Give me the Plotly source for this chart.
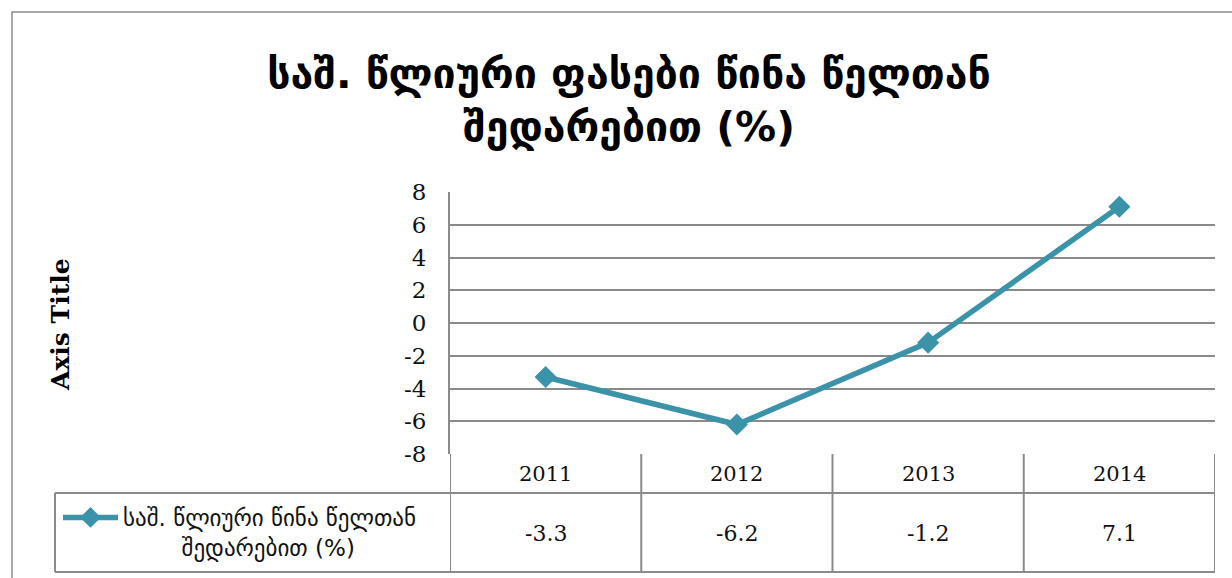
import plotly.graph_objects as go

# Annual average price change vs previous year, %
years = ["2011", "2012", "2013", "2014"]
values = [-3.3, -6.2, -1.2, 7.1]
value_labels = ["-3.3", "-6.2", "-1.2", "7.1"]
y_ticks = [-8, -6, -4, -2, 0, 2, 4, 6, 8]

title_text = "საშ. წლიური ფასები წინა წელთან<br>შედარებით (%)"
series_line1 = "საშ. წლიური წინა წელთან"
series_line2 = "შედარებით (%)"
axis_title = "Axis Title"

W, H = 1232, 578
LINE = "#3A93A8"
GRID = "#8A8A8A"
GEO_FONT = "DejaVu Sans"
NUM_FONT = "DejaVu Serif"


def px_x(p):
    return p / W


def px_y(p):
    return 1 - p / H


plot_left, plot_right = 450, 1215
plot_top, plot_bottom = 192, 454
row_mid, row_bottom = 493, 572
legend_left = 55

x_idx = list(range(len(years)))

# second legend line is padded so it sits centred under the first one
series_name = series_line1 + "<br>" + "\u00a0" * 8 + series_line2

fig = go.Figure()
fig.add_trace(go.Scatter(
    x=x_idx, y=values, mode="lines+markers", name=series_name,
    line=dict(color=LINE, width=5.5),
    marker=dict(symbol="diamond", size=17, color=LINE),
    hovertemplate="%{y}<extra></extra>",
))

shapes = []
# outer chart frame
shapes.append(dict(type="rect", xref="paper", yref="paper",
                   x0=px_x(12), x1=px_x(1260), y0=px_y(600), y1=px_y(12),
                   line=dict(color="#8C8C8C", width=1.5), layer="below"))
# data table: horizontal rules
for yy in (row_mid, row_bottom):
    shapes.append(dict(type="line", xref="paper", yref="paper",
                       x0=px_x(legend_left), x1=px_x(plot_right),
                       y0=px_y(yy), y1=px_y(yy),
                       line=dict(color=GRID, width=2)))
# legend cell left edge
shapes.append(dict(type="line", xref="paper", yref="paper",
                   x0=px_x(legend_left), x1=px_x(legend_left),
                   y0=px_y(row_mid), y1=px_y(row_bottom),
                   line=dict(color=GRID, width=2)))
# column separators at category boundaries
for b in [i - 0.5 for i in range(len(years) + 1)]:
    shapes.append(dict(type="line", xref="x", yref="paper",
                       x0=b, x1=b, y0=px_y(row_bottom), y1=px_y(plot_bottom),
                       line=dict(color=GRID, width=2)))

annotations = []
for i, (yr, lab) in enumerate(zip(years, value_labels)):
    annotations.append(dict(x=i, xref="x", y=px_y(474), yref="paper",
                            xanchor="center", yanchor="middle",
                            text=yr, showarrow=False,
                            font=dict(family=NUM_FONT, size=21, color="#111")))
    annotations.append(dict(x=i, xref="x", y=px_y(533), yref="paper",
                            xanchor="center", yanchor="middle",
                            text=lab, showarrow=False,
                            font=dict(family=NUM_FONT, size=22, color="#111")))
annotations.append(dict(x=px_x(60), xref="paper", y=px_y(325), yref="paper",
                        xanchor="center", yanchor="middle",
                        text="<b>" + axis_title + "</b>", textangle=-90,
                        showarrow=False,
                        font=dict(family=NUM_FONT, size=25, color="#000")))

fig.update_layout(
    width=W, height=H,
    margin=dict(l=0, r=0, t=0, b=0, autoexpand=False),
    paper_bgcolor="white", plot_bgcolor="white",
    title=dict(text="<b>" + title_text + "</b>", x=px_x(629), xanchor="center",
               y=px_y(88), yanchor="middle",
               font=dict(family=GEO_FONT, size=41, color="#000")),
    xaxis=dict(domain=[px_x(plot_left), px_x(plot_right)], range=[-0.5, 3.5],
               showgrid=False, zeroline=False, showticklabels=False,
               showline=False, fixedrange=True),
    yaxis=dict(domain=[px_y(plot_bottom), px_y(plot_top)], range=[-8, 8],
               tickvals=y_ticks, ticktext=[str(v) for v in y_ticks],
               showgrid=True, gridcolor=GRID, gridwidth=2,
               zeroline=True, zerolinecolor=GRID, zerolinewidth=2,
               showline=True, linecolor=GRID, linewidth=2,
               ticks="", ticklabelstandoff=17,
               tickfont=dict(family=NUM_FONT, size=23, color="#111"),
               fixedrange=True),
    showlegend=True,
    legend=dict(x=px_x(58), xanchor="left", y=px_y(496), yanchor="top",
                valign="top", itemwidth=55, bgcolor="rgba(0,0,0,0)",
                font=dict(family=GEO_FONT, size=23, color="#111"),
                itemclick=False, itemdoubleclick=False),
    shapes=shapes,
    annotations=annotations,
)

fig.write_html(
    "out.html",
    post_script="document.body.style.margin='0';"
                "document.body.style.overflow='hidden';",
)
